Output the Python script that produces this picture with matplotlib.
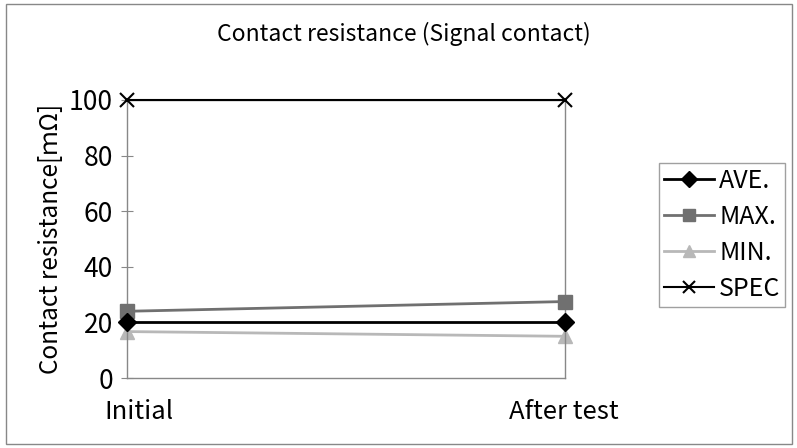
import matplotlib
matplotlib.use("Agg")
import matplotlib.pyplot as plt
from matplotlib.patches import Rectangle

plt.rcParams['font.family'] = ['Noto Sans CJK JP', 'DejaVu Sans']

# DATA
stages = ['Initial', 'After test']
ave = [20.0, 20.0]
mx = [24.0, 27.5]
mn = [16.7, 15.0]
spec = [100, 100]

fig = plt.figure(figsize=(7.97, 4.48), dpi=100)
ax = fig.add_axes([127/797, 1-378/448, (565-127)/797, (378-100)/448])

x = list(range(len(stages)))
ax.plot(x, ave, color='black', lw=2, marker='D', ms=9, label='AVE.', clip_on=False, zorder=4)
ax.plot(x, mx, color='#707070', lw=2, marker='s', ms=10, label='MAX.', clip_on=False, zorder=3)
ax.plot(x, mn, color='#b8b8b8', lw=2, marker='^', ms=10, label='MIN.', clip_on=False, zorder=2)
ax.plot(x, spec, color='black', lw=1.5, marker='x', ms=10, mew=1.5, label='SPEC', clip_on=False, zorder=5)

ax.set_xlim(0, 1)
ax.set_ylim(0, 100)
ax.set_yticks([0, 20, 40, 60, 80, 100])
ax.set_xticks([])
for s in ax.spines.values():
    s.set_color('#888888')
    s.set_linewidth(1)
ax.tick_params(axis='y', direction='inout', length=8, color='#888888', labelsize=19, pad=6)

ax.set_ylabel('Contact resistance[ｍΩ]', fontsize=17.5, labelpad=4)
fig.text(139/797, 1-412/448, stages[0], fontsize=18.5, ha='center', va='center')
fig.text(564/797, 1-412/448, stages[1], fontsize=18.5, ha='center', va='center')
fig.text(404/797, 1-34/448, 'Contact resistance (Signal contact)', fontsize=16.5, ha='center', va='center')

leg = ax.legend(loc='upper left', bbox_to_anchor=(659/797, 1-163/448), bbox_transform=fig.transFigure,
                fontsize=18, frameon=True, fancybox=False, handlelength=2.0, handletextpad=0.2,
                borderpad=0.2, labelspacing=0.4, borderaxespad=0, markerscale=0.9)
leg.get_frame().set_edgecolor('#888888')
leg.get_frame().set_linewidth(1)

fig.patches.append(Rectangle((6/797, 4/448), 786/797, 440/448, transform=fig.transFigure,
                             fill=False, edgecolor='#888888', lw=1))

fig.savefig('out.png', dpi=100)
